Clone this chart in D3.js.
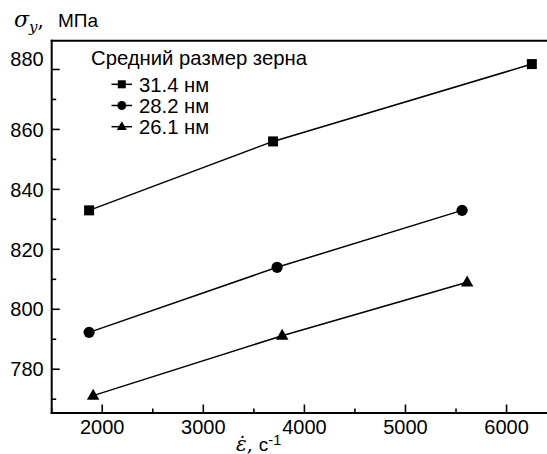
<!DOCTYPE html>
<html>
<head>
<meta charset="utf-8">
<script src="https://cdn.jsdelivr.net/npm/d3@7"></script>
<style>
  body { margin: 0; background: #fff; }
  text { font-family: "Liberation Sans", Arial, sans-serif; fill: #000; }
</style>
</head>
<body>
<div id="chart"></div>
<script>
// data
var grainSizes = ['31.4 нм', '28.2 нм', '26.1 нм'];
var symbols = ['square', 'circle', 'triangle'];
var rate314 = [1870, 3690, 6250];
var sigma314 = [833, 856, 881.8];
var rate282 = [1870, 3730, 5560];
var sigma282 = [792.3, 814, 833];
var rate261 = [1910, 3780, 5610];
var sigma261 = [771.2, 791.2, 809];
var xTicks = [2000, 3000, 4000, 5000, 6000];
var yTicks = [780, 800, 820, 840, 860, 880];

var width = 547, height = 454;
var margin = { top: 40.7, right: 0, bottom: 41, left: 51.7 };

var svg = d3.select('#chart').append('svg')
  .attr('width', width)
  .attr('height', height);

var x = d3.scaleLinear().domain([1500, 6400]).range([margin.left, width - margin.right]);
var y = d3.scaleLinear().domain([765.4, 889.6]).range([height - margin.bottom, margin.top]);

var series = [
  { name: grainSizes[0], sym: symbols[0], pts: d3.zip(rate314, sigma314) },
  { name: grainSizes[1], sym: symbols[1], pts: d3.zip(rate282, sigma282) },
  { name: grainSizes[2], sym: symbols[2], pts: d3.zip(rate261, sigma261) }
];

function marker(g, sym, cx, cy, scale) {
  if (sym === 'square') {
    var s = 10 * scale;
    g.append('rect').attr('x', cx - s / 2).attr('y', cy - s / 2).attr('width', s).attr('height', s);
  } else if (sym === 'circle') {
    g.append('circle').attr('cx', cx).attr('cy', cy).attr('r', 5.6 * scale);
  } else {
    var h = 11 * scale, w = 12.5 * scale;
    g.append('path').attr('d', 'M' + cx + ',' + (cy - h * 0.62) + 'L' + (cx + w / 2) + ',' + (cy + h * 0.38) + 'L' + (cx - w / 2) + ',' + (cy + h * 0.38) + 'Z');
  }
}

// minor ticks
var xMinor = d3.range(1500, 6400, 500).filter(function (v) { return v % 1000 !== 0; });
var yMinor = d3.range(770, 890, 20);

// x axis
var xAxis = svg.append('g').attr('transform', 'translate(0,' + (height - margin.bottom) + ')');
xAxis.append('line').attr('x1', margin.left - 1).attr('x2', width).attr('stroke', '#000').attr('stroke-width', 2);
xAxis.selectAll('.maj').data(xTicks).enter().append('line')
  .attr('x1', x).attr('x2', x).attr('y1', 0).attr('y2', -8.5)
  .attr('stroke', '#000').attr('stroke-width', 1.6);
xAxis.selectAll('.min').data(xMinor).enter().append('line')
  .attr('x1', x).attr('x2', x).attr('y1', 0).attr('y2', -4.5)
  .attr('stroke', '#000').attr('stroke-width', 1.6);
xAxis.selectAll('.lab').data(xTicks).enter().append('text')
  .attr('x', x).attr('y', 21)
  .attr('text-anchor', 'middle').style('font-size', '20px')
  .text(function (d) { return d; });

// y axis
var yAxis = svg.append('g').attr('transform', 'translate(' + margin.left + ',0)');
yAxis.append('line').attr('y1', margin.top - 1).attr('y2', height - margin.bottom + 1).attr('stroke', '#000').attr('stroke-width', 2);
yAxis.selectAll('.maj').data(yTicks).enter().append('line')
  .attr('y1', y).attr('y2', y).attr('x1', 0).attr('x2', 8)
  .attr('stroke', '#000').attr('stroke-width', 1.6);
yAxis.selectAll('.min').data(yMinor).enter().append('line')
  .attr('y1', y).attr('y2', y).attr('x1', 0).attr('x2', 4.5)
  .attr('stroke', '#000').attr('stroke-width', 1.6);
yAxis.selectAll('.lab').data(yTicks).enter().append('text')
  .attr('x', -8).attr('y', function (d) { return d === 880 ? y(d) - 11 : y(d); })
  .attr('dy', '0.36em')
  .attr('text-anchor', 'end').style('font-size', '20px')
  .text(function (d) { return d; });

// top frame
svg.append('line')
  .attr('x1', margin.left - 1).attr('x2', width)
  .attr('y1', margin.top).attr('y2', margin.top)
  .attr('stroke', '#000').attr('stroke-width', 2);

// lines + markers
var line = d3.line().x(function (d) { return x(d[0]); }).y(function (d) { return y(d[1]); });
series.forEach(function (s) {
  svg.append('path').datum(s.pts).attr('d', line)
    .attr('fill', 'none').attr('stroke', '#000').attr('stroke-width', 1.5);
  var g = svg.append('g').attr('fill', '#000');
  s.pts.forEach(function (p) { marker(g, s.sym, x(p[0]), y(p[1]), 1); });
});

// legend
var legend = svg.append('g');
legend.append('text').attr('x', 91).attr('y', 65).style('font-size', '20.3px').text('Средний размер зерна');
series.forEach(function (s, i) {
  var ly = 84.3 + i * 21.2;
  legend.append('line').attr('x1', 111.5).attr('x2', 132).attr('y1', ly).attr('y2', ly)
    .attr('stroke', '#000').attr('stroke-width', 1.5);
  marker(legend.append('g').attr('fill', '#000'), s.sym, 121.8, ly, 0.8);
  legend.append('text').attr('x', 139).attr('y', ly).attr('dy', '0.36em')
    .style('font-size', '20.3px').text(s.name);
});

// axis titles
var yt = svg.append('text').attr('x', 14).attr('y', 27);
yt.append('tspan').style('font-family', '"DejaVu Serif", serif').style('font-style', 'italic').style('font-size', '22px').text('σ');
yt.append('tspan').attr('dy', 5).style('font-family', '"DejaVu Serif", serif').style('font-style', 'italic').style('font-size', '15px').text('y');
yt.append('tspan').attr('dy', -5).style('font-family', '"DejaVu Serif", serif').style('font-size', '20px').text(',');
yt.append('tspan').attr('x', 58).style('font-size', '19px').text('МПа');

var xt = svg.append('text').attr('x', 236).attr('y', 450.5);
xt.append('tspan').style('font-family', '"DejaVu Serif", serif').style('font-style', 'italic').style('font-size', '20px').text('ε̇');
xt.append('tspan').style('font-family', '"DejaVu Serif", serif').style('font-size', '19px').text(', ');
xt.append('tspan').style('font-size', '19px').text('с');
xt.append('tspan').attr('dy', -5.5).style('font-size', '14.5px').text('-1');
</script>
</body>
</html>
